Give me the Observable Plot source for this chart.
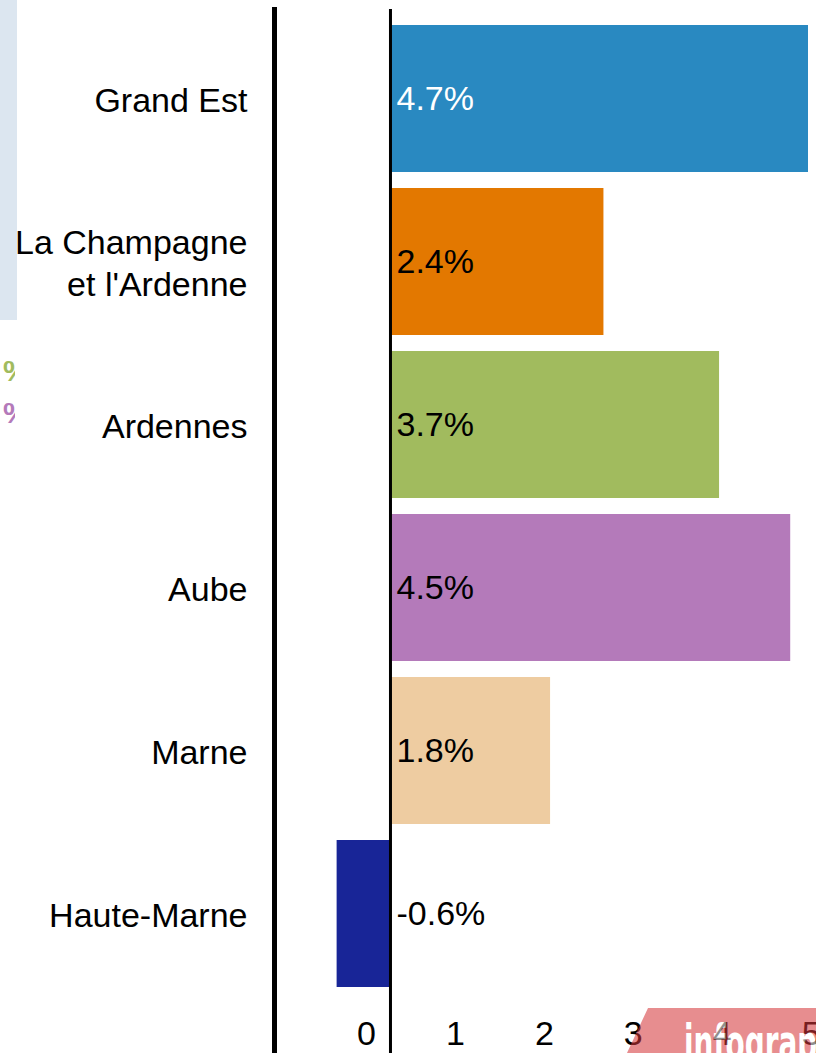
<!DOCTYPE html>
<html><head><meta charset="utf-8">
<script src="https://cdn.jsdelivr.net/npm/d3@7"></script>
<script src="https://cdn.jsdelivr.net/npm/@observablehq/plot@0.6"></script>
<style>
html,body{margin:0;padding:0;background:#fff;width:816px;height:1053px;overflow:hidden;}
#wrap{position:relative;width:816px;height:1053px;}
#chart{position:absolute;left:0;top:0;}
#chart svg{display:block;}
.panel{position:absolute;left:0;top:0;width:17px;height:320px;background:#dce6f0;}
.frag{position:absolute;left:0;width:15px;height:40px;overflow:hidden;}
.frag span{position:absolute;left:3px;top:0;font:bold 30px "Liberation Sans",Arial,sans-serif;line-height:30px;}
.logo{position:absolute;left:620px;top:1008px;width:196px;height:45px;opacity:0.56;overflow:hidden;}
.logo .bg{position:absolute;left:0;top:0;right:0;bottom:0;background:#d63639;clip-path:polygon(28px 0,100% 0,100% 100%,7px 100%);}
.logo .txt{position:absolute;left:64px;top:10px;color:#fff;font:bold 50px "DejaVu Sans Condensed","DejaVu Sans",sans-serif;font-stretch:condensed;line-height:50px;white-space:nowrap;transform:scaleX(0.62);transform-origin:0 0;}
</style>
</head><body>
<div id="wrap">
  <div class="panel"></div>
  <div class="frag" style="top:356px;color:#a1bb5e"><span>%</span></div>
  <div class="frag" style="top:398px;color:#b47aba"><span>%</span></div>
  <div id="chart"></div>
  <div class="logo"><div class="bg"></div><div class="txt">infographie</div></div>
</div>
<script>
const regions = ["Grand Est", "La Champagne\net l'Ardenne", "Ardennes", "Aube", "Marne", "Haute-Marne"];
const values = [4.7, 2.4, 3.7, 4.5, 1.8, -0.6];
const valueLabels = ["4.7%", "2.4%", "3.7%", "4.5%", "1.8%", "-0.6%"];
const xTicks = [0, 1, 2, 3, 4, 5];
const palette = ["#2989c1", "#e37800", "#a1bb5e", "#b47aba", "#eecca1", "#182597"];
const whiteLabelRegions = ["Grand Est"];

const data = regions.map((r, i) => ({region: r, value: values[i], label: valueLabels[i]}));
const font = '"Liberation Sans", Arial, sans-serif';

const chart = Plot.plot({
  width: 816,
  height: 1053,
  marginLeft: 274,
  marginRight: 0,
  marginTop: 25,
  marginBottom: 66,
  style: {fontFamily: font, background: "transparent", color: "#000", overflow: "visible"},
  x: {domain: [-1.304, 4.79], axis: null},
  y: {domain: regions, paddingInner: 0.0982, paddingOuter: 0, axis: null},
  color: {domain: regions, range: palette},
  marks: [
    Plot.barX(data, {x: "value", y: "region", fill: "region"}),
    Plot.ruleX([0], {stroke: "#000", strokeWidth: 3, insetTop: -16, insetBottom: -66}),
    Plot.frame({anchor: "left", stroke: "#000", strokeWidth: 5, insetTop: -16, insetBottom: -66}),
    Plot.axisY({tickSize: 0, tickPadding: 27, fontSize: 34, lineHeight: 1.23, fill: "#000", label: null}),
    Plot.text(data, {filter: d => !whiteLabelRegions.includes(d.region), x: 0, y: "region", text: "label", textAnchor: "start", dx: 6, fontSize: 34, fill: "#000"}),
    Plot.text(data, {filter: d => whiteLabelRegions.includes(d.region), x: 0, y: "region", text: "label", textAnchor: "start", dx: 6, fontSize: 34, fill: "#fff"}),
    Plot.text(xTicks, {x: d => d, text: d => String(d), frameAnchor: "bottom", dy: 57, dx: -24, fontSize: 34, fill: "#000"})
  ]
});
document.getElementById("chart").appendChild(chart);
</script>
</body></html>
